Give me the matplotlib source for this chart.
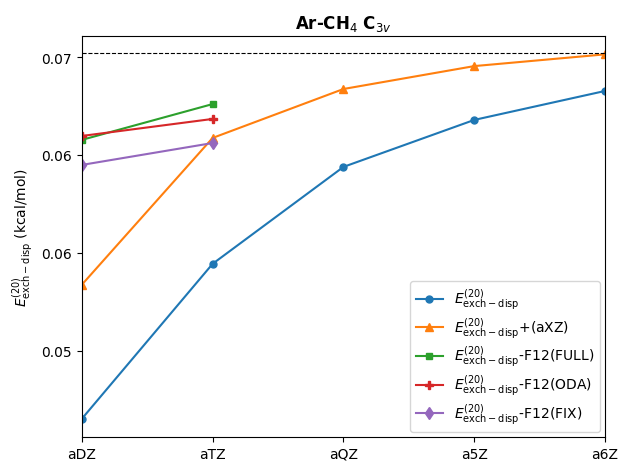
import matplotlib
matplotlib.use("Agg")
import matplotlib.pyplot as plt
from matplotlib.ticker import FormatStrFormatter

basis = ['aDZ', 'aTZ', 'aQZ', 'a5Z', 'a6Z']

exch_disp = [0.04652, 0.05444, 0.05939, 0.06179, 0.06327]
exch_disp_axz = [0.05337, 0.06087, 0.06337, 0.06454, 0.06514]
f12_full = [0.06077, 0.06260]
f12_oda = [0.06097, 0.06184]
f12_fix = [0.05949, 0.06061]
ref_value = 0.0652

lab = r'$E^{(20)}_{\rm exch-disp}$'

fig, ax = plt.subplots(figsize=(6.2, 4.64), dpi=100)
x = list(range(len(basis)))
ax.plot(x, exch_disp, marker='o', ms=5, label=lab)
ax.plot(x, exch_disp_axz, marker='^', ms=6, label=lab + '+(aXZ)')
ax.plot(x[:2], f12_full, marker='s', ms=5, label=lab + '-F12(FULL)')
ax.plot(x[:2], f12_oda, marker='P', ms=6, label=lab + '-F12(ODA)')
ax.plot(x[:2], f12_fix, marker='d', ms=6, label=lab + '-F12(FIX)')
ax.axhline(ref_value, color='black', linestyle='--', linewidth=0.8)

ax.set_xticks(x)
ax.set_xticklabels(basis)
ax.set_xlim(0, 4)
ax.set_yticks([0.05, 0.055, 0.06, 0.065])
ax.yaxis.set_major_formatter(FormatStrFormatter('%.2f'))
ax.set_ylabel(lab + ' (kcal/mol)')
ax.set_title(r'Ar-CH$_4$ C$_{3v}$', fontweight='bold')
ax.legend(loc='lower right', labelspacing=0.26, borderaxespad=0.35)

plt.subplots_adjust(left=0.132, right=0.976, top=0.920, bottom=0.056)
plt.savefig('out.png')
